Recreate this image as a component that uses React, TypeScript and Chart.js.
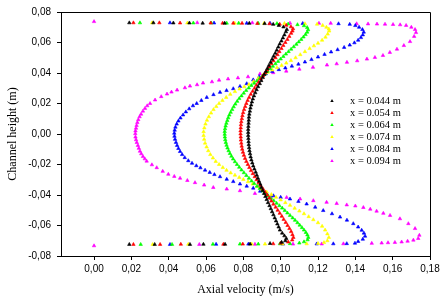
import { useEffect, useRef } from 'react';
import { Chart, registerables } from 'chart.js';

Chart.register(...registerables);

type Pt = [number, number];

const seriesLabels = ['x = 0.044 m', 'x = 0.054 m', 'x = 0.064 m', 'x = 0.074 m', 'x = 0.084 m', 'x = 0.094 m'];
const seriesColors = ['#000000', '#ff0000', '#00ff00', '#ffff00', '#0000ff', '#ff00ff'];
const xTickValues = [0, 0.02, 0.04, 0.06, 0.08, 0.1, 0.12, 0.14, 0.16, 0.18];
const yTickValues = [-0.08, -0.06, -0.04, -0.02, 0, 0.02, 0.04, 0.06, 0.08];
const xRange = [-0.0177, 0.18];
const yRange = [-0.08, 0.08];

// [axial velocity (m/s), channel height (m)]
const series044: Pt[] = [
  [0.0189, 0.0729], [0.0318, 0.0729], [0.0425, 0.0728], [0.0511, 0.0728], [0.0582, 0.0727], [0.07, 0.0727], [0.0832, 0.0726], [0.0914, 0.0724], [0.096, 0.0719],
  [0.099, 0.0712], [0.1015, 0.0702], [0.1033, 0.0685], [0.1028, 0.067], [0.102, 0.065], [0.1012, 0.063], [0.1004, 0.061], [0.0995, 0.059], [0.0987, 0.057], [0.0979, 0.055],
  [0.0971, 0.053], [0.0962, 0.051], [0.0954, 0.049], [0.0946, 0.047], [0.0937, 0.045], [0.0929, 0.043], [0.0921, 0.041], [0.0912, 0.039], [0.0904, 0.037], [0.0896, 0.035],
  [0.0888, 0.033], [0.0879, 0.031], [0.0871, 0.029], [0.0864, 0.027], [0.0857, 0.025], [0.0851, 0.023], [0.0846, 0.021], [0.0842, 0.019], [0.0838, 0.017], [0.0835, 0.015],
  [0.0832, 0.013], [0.083, 0.011], [0.0829, 0.009], [0.0828, 0.007], [0.0827, 0.005], [0.0826, 0.003], [0.0826, 0.001], [0.0826, -0.001], [0.0827, -0.003], [0.0828, -0.005],
  [0.0829, -0.007], [0.0831, -0.009], [0.0833, -0.011], [0.0836, -0.013], [0.0839, -0.015], [0.0843, -0.017], [0.0848, -0.019], [0.0853, -0.021], [0.0859, -0.023], [0.0866, -0.025],
  [0.0872, -0.027], [0.0878, -0.029], [0.0884, -0.031], [0.0891, -0.033], [0.0897, -0.035], [0.0904, -0.037], [0.0911, -0.039], [0.0918, -0.041], [0.0925, -0.043], [0.0932, -0.045],
  [0.094, -0.047], [0.0947, -0.049], [0.0954, -0.051], [0.0961, -0.053], [0.0968, -0.055], [0.0975, -0.057], [0.0982, -0.059], [0.0989, -0.061], [0.0996, -0.063], [0.1008, -0.065],
  [0.102, -0.0668], [0.103, -0.0685], [0.1025, -0.07], [0.1005, -0.071],
  [0.0943, -0.0718], [0.0836, -0.0722], [0.0702, -0.0723], [0.0586, -0.0723], [0.0514, -0.0724], [0.0325, -0.0724], [0.0189, -0.0724],
];

const series054: Pt[] = [
  [0.0211, 0.0729], [0.035, 0.0729], [0.0461, 0.0728], [0.0625, 0.0728], [0.0689, 0.0727], [0.0746, 0.0727], [0.0793, 0.0726], [0.0875, 0.0725], [0.094, 0.0723], [0.0995, 0.072],
  [0.103, 0.0713], [0.1055, 0.0703], [0.1066, 0.069], [0.1063, 0.0675], [0.1056, 0.066], [0.1046, 0.064], [0.1036, 0.062], [0.1025, 0.06], [0.1014, 0.058], [0.1004, 0.056],
  [0.0993, 0.054], [0.0983, 0.052], [0.0972, 0.05], [0.0961, 0.048], [0.095, 0.046], [0.0939, 0.044], [0.0927, 0.042], [0.0916, 0.04], [0.0905, 0.038], [0.0893, 0.036],
  [0.0882, 0.034], [0.087, 0.032], [0.086, 0.03], [0.085, 0.028], [0.084, 0.026], [0.0831, 0.024], [0.0823, 0.022], [0.0816, 0.02], [0.081, 0.018], [0.0804, 0.016],
  [0.0799, 0.014], [0.0795, 0.012], [0.0792, 0.01], [0.0789, 0.008], [0.0787, 0.006], [0.0786, 0.004], [0.0785, 0.002], [0.0785, 0.0], [0.0786, -0.002], [0.0787, -0.004],
  [0.0789, -0.006], [0.0791, -0.008], [0.0794, -0.01], [0.0798, -0.012], [0.0803, -0.014], [0.0809, -0.016], [0.0816, -0.018], [0.0824, -0.02], [0.0832, -0.022], [0.0841, -0.024],
  [0.0851, -0.026], [0.0861, -0.028], [0.0871, -0.03], [0.0882, -0.032], [0.0893, -0.034], [0.0905, -0.036], [0.0916, -0.038], [0.0927, -0.04], [0.0939, -0.042], [0.095, -0.044],
  [0.0961, -0.046], [0.0973, -0.048], [0.0984, -0.05], [0.0995, -0.052], [0.1006, -0.054], [0.1016, -0.056], [0.1027, -0.058], [0.1037, -0.06], [0.1047, -0.062], [0.1056, -0.064],
  [0.1063, -0.066], [0.1068, -0.0678], [0.1062, -0.0695], [0.104, -0.0708],
  [0.1, -0.0716], [0.096, -0.072], [0.0797, -0.0722], [0.0693, -0.0723], [0.0465, -0.0723], [0.0354, -0.0724], [0.0211, -0.0724],
];

const series064: Pt[] = [
  [0.0246, 0.0729], [0.0532, 0.0728], [0.0628, 0.0728], [0.0711, 0.0727], [0.0775, 0.0727], [0.088, 0.0726], [0.098, 0.0724], [0.104, 0.0721], [0.109, 0.0717],
  [0.1125, 0.071], [0.1142, 0.0698], [0.1147, 0.0683], [0.1142, 0.0668], [0.1133, 0.0652], [0.1122, 0.0636], [0.111, 0.062], [0.1097, 0.0604], [0.1084, 0.0588], [0.107, 0.0572],
  [0.1056, 0.0556], [0.1042, 0.054], [0.1028, 0.0524], [0.1014, 0.0508], [0.1, 0.0492], [0.0986, 0.0476], [0.0972, 0.046], [0.0958, 0.0444], [0.0944, 0.0428], [0.093, 0.0412],
  [0.0916, 0.0396], [0.0902, 0.038], [0.0888, 0.0364], [0.0873, 0.0348], [0.0858, 0.0333], [0.0843, 0.0318], [0.0829, 0.0302], [0.0815, 0.0285], [0.0802, 0.0268], [0.079, 0.025],
  [0.0778, 0.0232], [0.0767, 0.0214], [0.0757, 0.0196], [0.0748, 0.0178], [0.074, 0.016], [0.0732, 0.0142], [0.0725, 0.0124], [0.0719, 0.0106], [0.0714, 0.0088], [0.0709, 0.007],
  [0.0705, 0.0052], [0.0702, 0.0034], [0.07, 0.0016], [0.07, -0.0002], [0.0701, -0.002], [0.0703, -0.0038], [0.0706, -0.0056], [0.071, -0.0074], [0.0715, -0.0092], [0.0721, -0.011],
  [0.0728, -0.0128], [0.0736, -0.0146], [0.0745, -0.0164], [0.0755, -0.0182], [0.0766, -0.02], [0.0778, -0.0218], [0.079, -0.0236], [0.0803, -0.0254], [0.0816, -0.0272], [0.083, -0.029],
  [0.0844, -0.0308], [0.0858, -0.0325], [0.0873, -0.0342], [0.0888, -0.0358], [0.0903, -0.0374], [0.0918, -0.039], [0.0933, -0.0406], [0.0948, -0.0422], [0.0963, -0.0438], [0.0978, -0.0454],
  [0.0993, -0.047], [0.1008, -0.0486], [0.1022, -0.0502], [0.1036, -0.0518], [0.105, -0.0534], [0.1064, -0.055], [0.1077, -0.0566], [0.109, -0.0582], [0.1102, -0.0598], [0.1114, -0.0614],
  [0.1125, -0.063], [0.1135, -0.0646], [0.1143, -0.0662], [0.1148, -0.0678], [0.1144, -0.0694], [0.1125, -0.0707],
  [0.11, -0.0715], [0.105, -0.0719], [0.0996, -0.072], [0.088, -0.0722], [0.0782, -0.0722], [0.0637, -0.0723], [0.0418, -0.0724], [0.025, -0.0724],
];

const series074: Pt[] = [
  [0.0311, 0.0729], [0.05, 0.0728], [0.0754, 0.0727], [0.0911, 0.0726], [0.102, 0.0725], [0.113, 0.0723], [0.1195, 0.072], [0.1225, 0.0712],
  [0.1245, 0.07], [0.1258, 0.0688], [0.126, 0.0675], [0.1252, 0.0655], [0.124, 0.0635], [0.1222, 0.0615], [0.12, 0.0595], [0.1178, 0.0578], [0.1155, 0.056], [0.113, 0.054],
  [0.1105, 0.052], [0.108, 0.05], [0.1055, 0.0482], [0.103, 0.0465], [0.1005, 0.045], [0.098, 0.0435], [0.0955, 0.042], [0.093, 0.0405], [0.0905, 0.0385], [0.088, 0.0365],
  [0.0855, 0.0345], [0.083, 0.0325], [0.0805, 0.031], [0.078, 0.0295], [0.0755, 0.0278], [0.073, 0.026], [0.0708, 0.024], [0.0688, 0.022], [0.067, 0.02], [0.0655, 0.018],
  [0.064, 0.016], [0.0627, 0.0137], [0.0615, 0.0113], [0.0605, 0.009], [0.0597, 0.0065], [0.0591, 0.004], [0.0587, 0.0015], [0.0587, -0.001], [0.059, -0.0035], [0.0595, -0.006],
  [0.0603, -0.0085], [0.0612, -0.011], [0.0623, -0.0135], [0.0637, -0.0157], [0.0652, -0.018], [0.067, -0.02], [0.069, -0.022], [0.071, -0.0238], [0.0732, -0.0255], [0.0755, -0.027],
  [0.0778, -0.0285], [0.08, -0.0298], [0.0825, -0.0313], [0.085, -0.0328], [0.0875, -0.0345], [0.09, -0.0362], [0.0925, -0.038], [0.095, -0.0397], [0.0975, -0.0415], [0.1, -0.0432],
  [0.1025, -0.045], [0.105, -0.0468], [0.1075, -0.0487], [0.11, -0.0505], [0.1125, -0.0523], [0.115, -0.0542], [0.1175, -0.0562], [0.12, -0.0582], [0.1222, -0.0605], [0.1238, -0.063],
  [0.125, -0.0655], [0.1258, -0.0678], [0.125, -0.07], [0.1232, -0.0712],
  [0.12, -0.0718], [0.1139, -0.072], [0.101, -0.0721], [0.0916, -0.0722], [0.0845, -0.0722], [0.0505, -0.0723], [0.0314, -0.0724],
];

const series084: Pt[] = [
  [0.0407, 0.0729], [0.0643, 0.0728], [0.0818, 0.0727], [0.0943, 0.0726], [0.1118, 0.0725], [0.131, 0.0723], [0.137, 0.0719], [0.14, 0.0711],
  [0.142, 0.07], [0.1438, 0.0685], [0.1445, 0.0668], [0.144, 0.065], [0.143, 0.0632], [0.1415, 0.0615], [0.1395, 0.0598], [0.137, 0.0583], [0.134, 0.0568], [0.1305, 0.0553],
  [0.127, 0.0538], [0.1235, 0.0522], [0.12, 0.0505], [0.1165, 0.0488], [0.113, 0.0472], [0.1095, 0.0458], [0.106, 0.0445], [0.1025, 0.0433], [0.099, 0.0422], [0.0955, 0.041],
  [0.092, 0.0395], [0.0885, 0.0376], [0.0853, 0.0355], [0.0818, 0.033], [0.0782, 0.0312], [0.0746, 0.0297], [0.071, 0.0285], [0.0675, 0.0273], [0.064, 0.0258], [0.0604, 0.024],
  [0.0575, 0.022], [0.055, 0.02], [0.053, 0.0185], [0.051, 0.0165], [0.0492, 0.0145], [0.0477, 0.0125], [0.0463, 0.0105], [0.0452, 0.0085], [0.0443, 0.0065], [0.0436, 0.0045],
  [0.0432, 0.0025], [0.043, 0.0005], [0.0431, -0.0015], [0.0434, -0.0035], [0.0439, -0.0055], [0.0445, -0.0075], [0.0452, -0.0095], [0.0461, -0.0115], [0.0472, -0.0135], [0.0486, -0.0155],
  [0.0505, -0.0175], [0.0525, -0.0192], [0.0548, -0.0208], [0.057, -0.0222], [0.0595, -0.0237], [0.062, -0.0252], [0.0645, -0.0266], [0.0675, -0.028], [0.0711, -0.0297], [0.0746, -0.0312],
  [0.0782, -0.0328], [0.0818, -0.0342], [0.0853, -0.0355], [0.089, -0.0375], [0.0925, -0.0392], [0.0961, -0.0405], [0.1, -0.0415], [0.105, -0.0426], [0.1095, -0.0442], [0.1139, -0.0459],
  [0.1185, -0.048], [0.1228, -0.0502], [0.1275, -0.0523], [0.1318, -0.0545], [0.1355, -0.0565], [0.1389, -0.0588], [0.1415, -0.061], [0.1434, -0.0631], [0.1446, -0.065], [0.1452, -0.067],
  [0.144, -0.069], [0.1415, -0.0705],
  [0.1398, -0.0716], [0.1354, -0.0719], [0.1282, -0.072], [0.1193, -0.0721], [0.1012, -0.0722], [0.0827, -0.0722], [0.0654, -0.0723], [0.0407, -0.0724],
];

const series094: Pt[] = [
  [0.0, 0.0737], [0.0553, 0.073], [0.0848, 0.0729], [0.105, 0.0727], [0.1205, 0.0726], [0.1268, 0.0726], [0.1407, 0.0723], [0.1468, 0.0722], [0.1516, 0.0721], [0.1559, 0.072],
  [0.1602, 0.0718], [0.164, 0.0716], [0.1672, 0.0712],
  [0.17, 0.07], [0.172, 0.0685], [0.1725, 0.0665], [0.1715, 0.064], [0.1693, 0.0606], [0.166, 0.058], [0.1623, 0.0556], [0.1585, 0.0535], [0.1548, 0.0515], [0.1505, 0.0502],
  [0.1462, 0.0491], [0.141, 0.048], [0.1355, 0.047], [0.13, 0.046], [0.1248, 0.0452], [0.1173, 0.0437], [0.11, 0.0425], [0.103, 0.0412], [0.096, 0.0402], [0.0889, 0.0394],
  [0.0825, 0.0375], [0.0771, 0.0368], [0.0718, 0.0361], [0.067, 0.0353], [0.0632, 0.0342], [0.0584, 0.0334], [0.0552, 0.0323], [0.0514, 0.0314], [0.0487, 0.0303], [0.0445, 0.0288],
  [0.0415, 0.0275], [0.0391, 0.0262], [0.036, 0.0245], [0.0327, 0.0223], [0.03, 0.02], [0.0285, 0.0185], [0.0273, 0.0168], [0.0262, 0.015], [0.0252, 0.013], [0.0244, 0.0113],
  [0.0237, 0.0094], [0.0232, 0.0075], [0.0228, 0.0056], [0.0225, 0.0038], [0.0222, 0.002], [0.0221, 0.0002], [0.0222, -0.002], [0.0225, -0.0038], [0.0229, -0.0056], [0.0235, -0.0075],
  [0.024, -0.0094], [0.0246, -0.0113], [0.0253, -0.013], [0.0262, -0.0148], [0.0272, -0.0163], [0.0282, -0.0178], [0.031, -0.0202], [0.0336, -0.0221], [0.0368, -0.0245], [0.0398, -0.0264],
  [0.043, -0.0278], [0.0461, -0.029], [0.05, -0.0305], [0.0541, -0.0319], [0.059, -0.0335], [0.0639, -0.0351], [0.0711, -0.0361], [0.0782, -0.0372], [0.0862, -0.039], [0.095, -0.0408],
  [0.1032, -0.0416], [0.1104, -0.0426], [0.1175, -0.0437], [0.1246, -0.0448], [0.13, -0.0456], [0.1354, -0.0465], [0.14, -0.0472], [0.1443, -0.0482], [0.148, -0.0493], [0.1514, -0.0506],
  [0.155, -0.052], [0.1586, -0.0534], [0.1639, -0.0556], [0.1684, -0.0588], [0.172, -0.062], [0.1743, -0.0664], [0.1737, -0.0685], [0.1711, -0.0696],
  [0.168, -0.0703], [0.1648, -0.0708], [0.1612, -0.0711], [0.1575, -0.0713], [0.1541, -0.0715], [0.1488, -0.0717], [0.1336, -0.072], [0.122, -0.0721], [0.1066, -0.0722], [0.0862, -0.0723],
  [0.0564, -0.0724], [0.0, -0.0733],
];

const allSeries = [series044, series054, series064, series074, series084, series094];

const fmt = (v: number) => (Math.abs(v) < 1e-9 ? '0,00' : v.toFixed(2).replace('.', ','));

function drawTri(ctx: CanvasRenderingContext2D, x: number, y: number, r: number) {
  ctx.beginPath();
  ctx.moveTo(x, y - r);
  ctx.lineTo(x + r * 0.866, y + r * 0.5);
  ctx.lineTo(x - r * 0.866, y + r * 0.5);
  ctx.closePath();
  ctx.fill();
}

const framePlugin = {
  id: 'frameAndLegend',
  afterDraw(chart: any) {
    const { ctx, chartArea } = chart;
    const { left, top, right, bottom } = chartArea;
    ctx.save();
    ctx.strokeStyle = '#000';
    ctx.lineWidth = 1;
    ctx.beginPath();
    ctx.moveTo(left, Math.floor(top) + 0.5);
    ctx.lineTo(Math.floor(right) + 0.5, Math.floor(top) + 0.5);
    ctx.lineTo(Math.floor(right) + 0.5, bottom);
    ctx.stroke();

    // legend inside plot
    const markerX = 332;
    const textX = 350;
    const startY = 101;
    const step = 12;
    ctx.font = '10.5px "Liberation Serif", "Times New Roman", serif';
    ctx.textBaseline = 'middle';
    ctx.textAlign = 'left';
    chart.data.datasets.forEach((ds: any, i: number) => {
      const y = startY + i * step;
      ctx.fillStyle = ds.backgroundColor;
      drawTri(ctx, markerX, y, 2);
      ctx.fillStyle = '#000';
      ctx.fillText(ds.label, textX, y);
    });
    ctx.restore();
  },
};

export default function App() {
  const ref = useRef<HTMLCanvasElement | null>(null);
  useEffect(() => {
    document.body.style.margin = '0';
    if (!ref.current) return;
    const chart = new Chart(ref.current, {
      type: 'scatter',
      data: {
        datasets: allSeries.map((s, i) => ({
          label: seriesLabels[i],
          data: s.map(([x, y]) => ({ x, y })),
          backgroundColor: seriesColors[i],
          borderColor: seriesColors[i],
          pointStyle: 'triangle',
          pointRadius: 2,
          pointBorderWidth: 0.6,
          pointHoverRadius: 2,
        })),
      },
      options: {
        animation: false,
        responsive: false,
        events: [],
        layout: { padding: { top: 9, right: 14, left: 0, bottom: 0 } },
        plugins: { legend: { display: false }, tooltip: { enabled: false } },
        scales: {
          x: {
            type: 'linear',
            min: xRange[0],
            max: xRange[1],
            afterBuildTicks: (scale: any) => {
              scale.ticks = xTickValues.map((value) => ({ value }));
            },
            afterFit: (scale: any) => {
              scale.height = 48;
            },
            grid: { drawOnChartArea: false, drawTicks: true, tickLength: 4, color: '#000' },
            border: { display: true, color: '#000', width: 1 },
            ticks: {
              color: '#000',
              padding: 3,
              maxRotation: 0,
              autoSkip: false,
              font: { family: '"Liberation Sans", Arial, sans-serif', size: 10 },
              callback: (v: any) => fmt(Number(v)),
            },
            title: {
              display: true,
              text: 'Axial velocity (m/s)',
              color: '#000',
              font: { family: '"Liberation Serif", "Times New Roman", serif', size: 12 },
              padding: { top: 0, bottom: 7 },
            },
          },
          y: {
            type: 'linear',
            min: yRange[0],
            max: yRange[1],
            afterBuildTicks: (scale: any) => {
              scale.ticks = yTickValues.map((value) => ({ value }));
            },
            afterFit: (scale: any) => {
              scale.width = 61;
            },
            grid: { drawOnChartArea: false, drawTicks: true, tickLength: 4, color: '#000' },
            border: { display: true, color: '#000', width: 1 },
            ticks: {
              color: '#000',
              padding: 6,
              autoSkip: false,
              font: { family: '"Liberation Sans", Arial, sans-serif', size: 10 },
              callback: (v: any) => fmt(Number(v)),
            },
            title: {
              display: true,
              text: 'Channel height (m)',
              color: '#000',
              font: { family: '"Liberation Serif", "Times New Roman", serif', size: 12 },
              padding: { top: 6, bottom: 0 },
            },
          },
        },
      },
      plugins: [framePlugin],
    });
    return () => chart.destroy();
  }, []);
  return (
    <div style={{ width: 444, height: 304, background: '#fff' }}>
      <canvas ref={ref} width={444} height={304} style={{ display: 'block', width: 444, height: 304 }} />
    </div>
  );
}
